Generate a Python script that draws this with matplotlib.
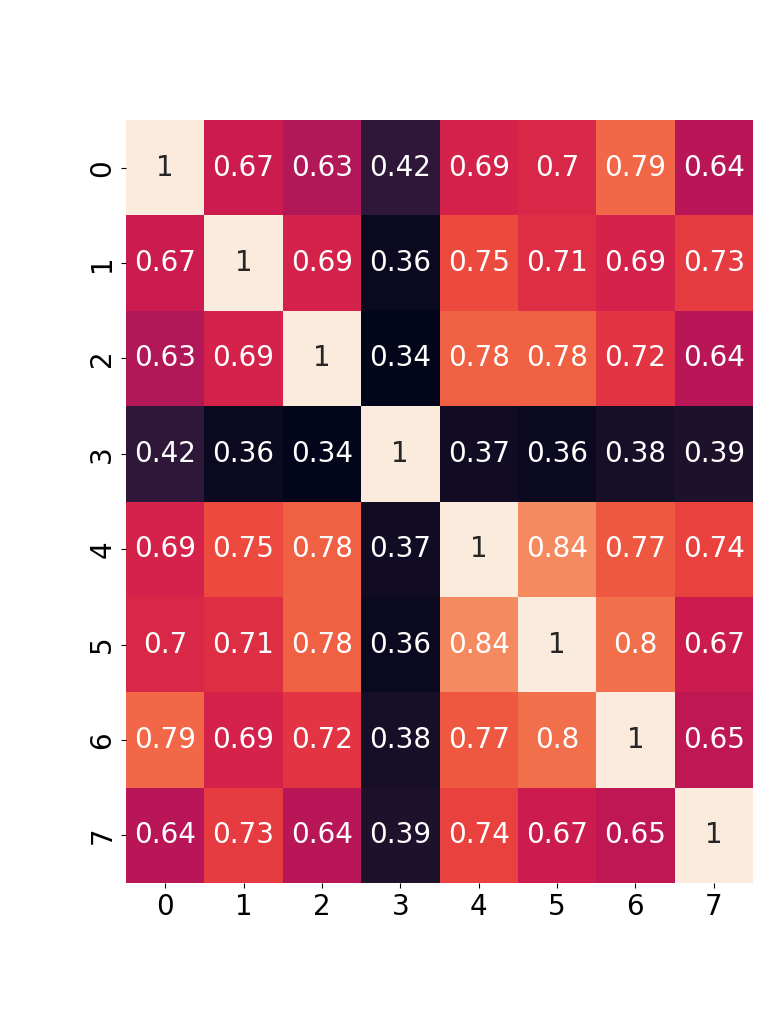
import matplotlib
matplotlib.use("Agg")
import matplotlib.pyplot as plt
import seaborn as sns
import numpy as np

labels = ["0", "1", "2", "3", "4", "5", "6", "7"]
row0 = [1.00, 0.67, 0.63, 0.42, 0.69, 0.70, 0.79, 0.64]
row1 = [0.67, 1.00, 0.69, 0.36, 0.75, 0.71, 0.69, 0.73]
row2 = [0.63, 0.69, 1.00, 0.34, 0.78, 0.78, 0.72, 0.64]
row3 = [0.42, 0.36, 0.34, 1.00, 0.37, 0.36, 0.38, 0.39]
row4 = [0.69, 0.75, 0.78, 0.37, 1.00, 0.84, 0.77, 0.74]
row5 = [0.70, 0.71, 0.78, 0.36, 0.84, 1.00, 0.80, 0.67]
row6 = [0.79, 0.69, 0.72, 0.38, 0.77, 0.80, 1.00, 0.65]
row7 = [0.64, 0.73, 0.64, 0.39, 0.74, 0.67, 0.65, 1.00]

data = np.array([row0, row1, row2, row3, row4, row5, row6, row7])

fig = plt.figure(figsize=(7.78, 10.10), dpi=100)
ax = fig.add_axes([126/778, 1 - 883/1010, (753 - 126)/778, (883 - 120)/1010])
sns.heatmap(data, annot=True, cbar=False, cmap="rocket", ax=ax,
            xticklabels=labels, yticklabels=labels,
            annot_kws={"fontsize": 20})
ax.tick_params(axis="both", labelsize=20)
plt.setp(ax.get_yticklabels(), rotation=90, va="center")
plt.setp(ax.get_xticklabels(), rotation=0)
fig.savefig("out.png", dpi=100)
